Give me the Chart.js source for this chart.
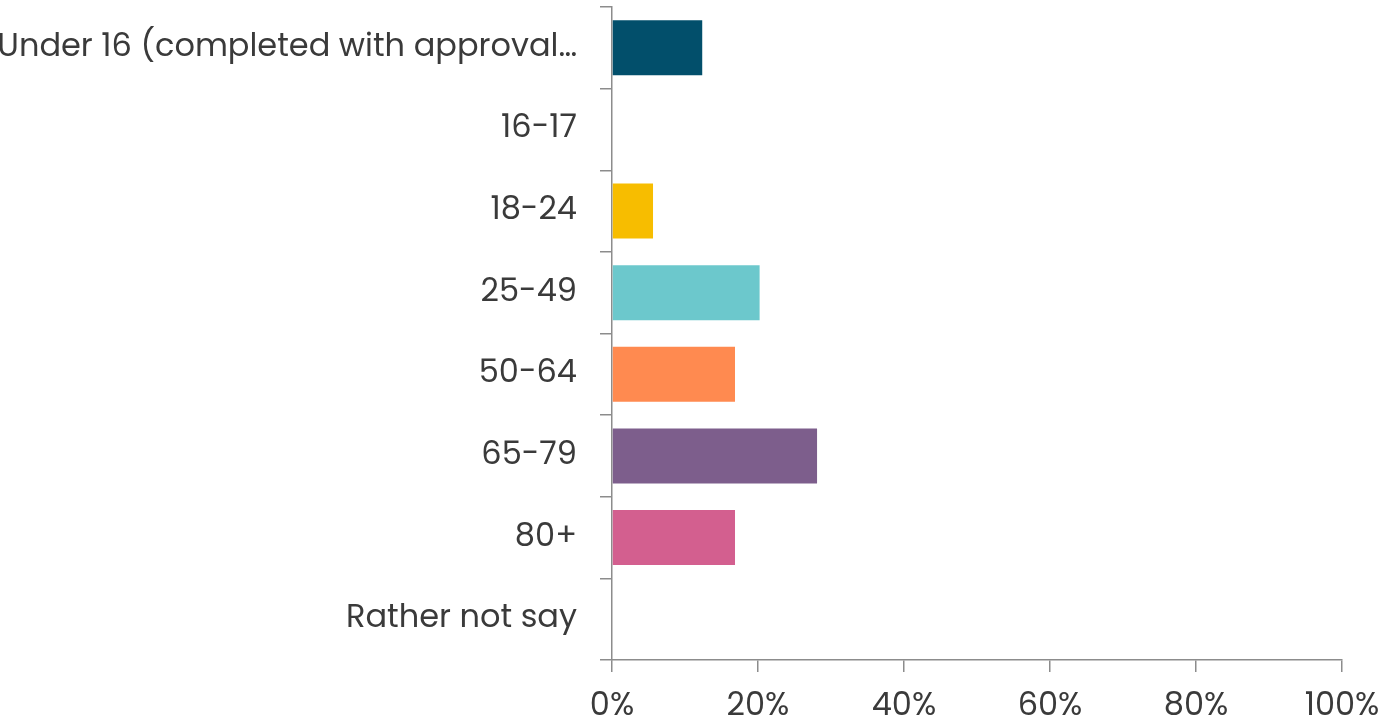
<!DOCTYPE html>
<html>
<head>
<meta charset="utf-8">
<title>Age group</title>
<script src="https://cdn.jsdelivr.net/npm/chart.js@4/dist/chart.umd.min.js"></script>
<style>
    html, body { margin: 0; padding: 0; background: #fff; }
    #wrap { width: 1384px; height: 723px; position: relative; }
</style>
</head>
<body>
<div id="wrap"><canvas id="ageChart"></canvas></div>
<script>
const ageGroups = [
    "Under 16 (completed with approval…",
    "16-17",
    "18-24",
    "25-49",
    "50-64",
    "65-79",
    "80+",
    "Rather not say"
];

// percentage of respondents in each group
const sharePct = [12.36, 0, 5.62, 20.22, 16.85, 28.09, 16.85, 0];

const barColors = [
    "#024f6b",
    "#7fb3c8",
    "#f7bd00",
    "#6cc8cc",
    "#ff8a50",
    "#7d5e8c",
    "#d35f8f",
    "#999999"
];

const percentTicks = [0, 20, 40, 60, 80, 100];

const axisGrey = "#8c8c8c";
const textColor = "#3a3a3a";
const fontFamily = "'Poppins', 'Open Sans', sans-serif";

window.addEventListener("DOMContentLoaded", () => {
    const ctx = document.getElementById("ageChart").getContext("2d");
    new Chart(ctx, {
        type: "bar",
        data: {
            labels: ageGroups,
            datasets: [
                {
                    data: sharePct,
                    backgroundColor: barColors,
                    borderWidth: 0,
                    barPercentage: 0.675,
                    categoryPercentage: 1
                }
            ]
        },
        options: {
            indexAxis: "y",
            responsive: true,
            maintainAspectRatio: false,
            animation: false,
            layout: {
                padding: { top: 7, right: 42, bottom: 0, left: 0 }
            },
            plugins: {
                legend: { display: false },
                tooltip: { enabled: false }
            },
            scales: {
                x: {
                    min: 0,
                    max: 100,
                    afterBuildTicks: scale => {
                        scale.ticks = percentTicks.map(v => ({ value: v }));
                    },
                    afterFit: scale => {
                        // keep the plot edge fixed instead of making room for "100%"
                        scale.height = 63;
                        scale.paddingLeft = 0;
                        scale.paddingRight = 0;
                    },
                    border: { color: axisGrey, width: 1.5 },
                    grid: {
                        drawOnChartArea: false,
                        drawTicks: true,
                        tickLength: 12,
                        color: axisGrey,
                        lineWidth: 1.5
                    },
                    ticks: {
                        padding: 16,
                        color: textColor,
                        maxRotation: 0,
                        font: { family: fontFamily, size: 32 },
                        callback: v => v + "%"
                    }
                },
                y: {
                    afterFit: scale => {
                        scale.width = 612;
                        scale.paddingTop = 0;
                        scale.paddingBottom = 0;
                    },
                    border: { color: axisGrey, width: 1.5 },
                    grid: {
                        offset: true,
                        drawOnChartArea: false,
                        drawTicks: true,
                        tickLength: 12,
                        color: axisGrey,
                        lineWidth: 1.5
                    },
                    ticks: {
                        padding: 23,
                        color: textColor,
                        autoSkip: false,
                        font: { family: fontFamily, size: 32 }
                    }
                }
            }
        }
    });
});
</script>
</body>
</html>
